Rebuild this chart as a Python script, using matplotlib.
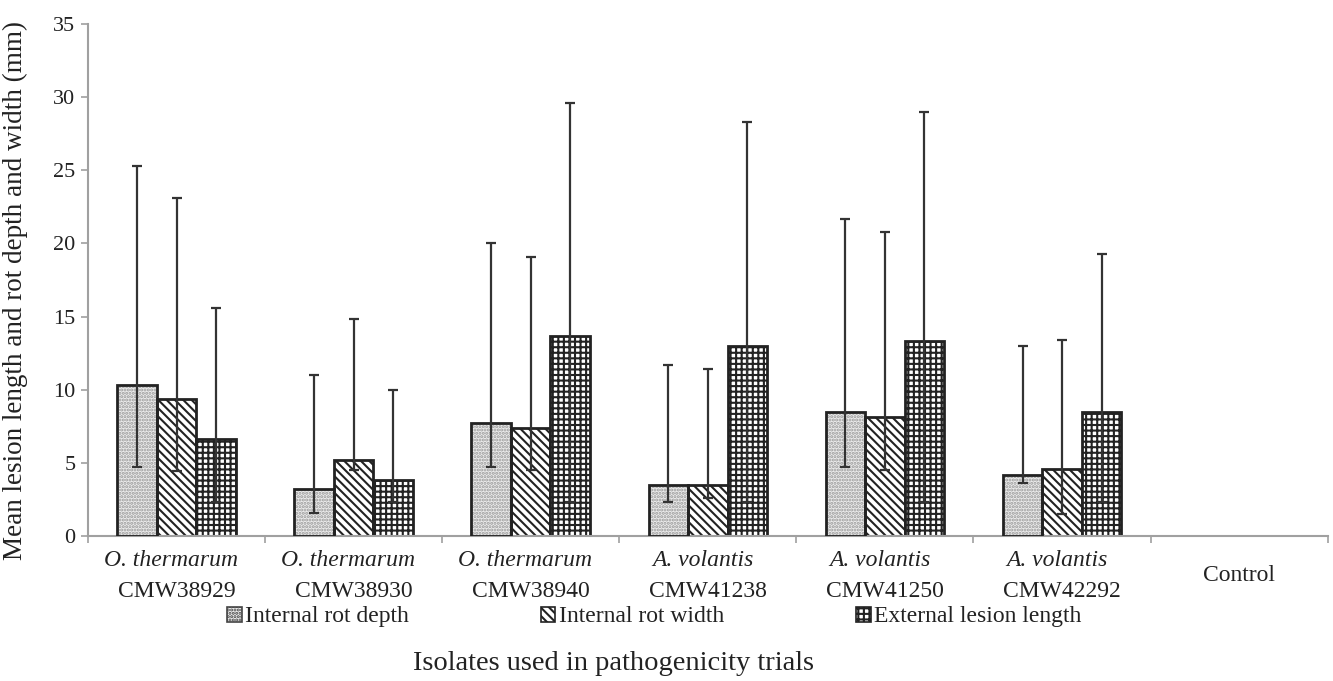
import numpy as np
import matplotlib
matplotlib.use('Agg')
import matplotlib.pyplot as plt
from matplotlib.patches import Patch

plt.rcParams['font.family'] = ['Liberation Serif', 'DejaVu Serif']
plt.rcParams['hatch.linewidth'] = 1.5

# 分类与数据
genus = ['O. thermarum', 'O. thermarum', 'O. thermarum',
         'A. volantis', 'A. volantis', 'A. volantis']
isolates = ['CMW38929', 'CMW38930', 'CMW38940',
            'CMW41238', 'CMW41250', 'CMW42292']
control_label = 'Control'

series_names = ['Internal rot depth', 'Internal rot width', 'External lesion length']

# 平均值
depth = [10.35, 3.2, 7.7, 3.5, 8.5, 4.15]
width = [9.35, 5.2, 7.35, 3.5, 8.15, 4.55]
lesion = [6.65, 3.85, 13.7, 13.0, 13.3, 8.5]

# 误差线上端和下端
depth_hi = [25.3, 11.0, 20.0, 11.7, 21.7, 13.0]
depth_lo = [4.7, 1.6, 4.7, 2.3, 4.7, 3.6]
width_hi = [23.1, 14.8, 19.1, 11.4, 20.8, 13.4]
width_lo = [4.45, 4.5, 4.5, 2.6, 4.5, 1.5]
lesion_hi = [15.6, 10.0, 29.6, 28.3, 29.0, 19.3]
lesion_lo = [2.3, 2.3, 2.3, 2.3, 2.3, 2.3]

means = [depth, width, lesion]
highs = [depth_hi, width_hi, lesion_hi]
lows = [depth_lo, width_lo, lesion_lo]

fig = plt.figure(figsize=(13.33, 6.81), dpi=100)
ax = fig.add_axes([0.066, 0.2129, 0.93, 0.752])

n_cat = len(isolates) + 1
x = np.arange(len(isolates))
bw = 0.223
spine_col = '#a0a0a0'
dot_hatch = '.....'
line_hatch = '\\\\\\\\'
grid_hatch = '+++'

for k in range(3):
    pos = x + (k - 1) * bw
    m = np.array(means[k])
    err = [m - np.array(lows[k]), np.array(highs[k]) - m]
    if k == 0:
        # 灰色点状填充，黑色边框
        ax.bar(pos, m, bw, color='#ececec', edgecolor='#9a9a9a', hatch=dot_hatch, linewidth=0, zorder=2)
        ax.bar(pos, m, bw, fill=False, edgecolor='#222222', linewidth=2, zorder=3)
    elif k == 1:
        ax.bar(pos, m, bw, color='white', edgecolor='#222222', hatch=line_hatch, linewidth=2, zorder=2)
    else:
        ax.bar(pos, m, bw, color='white', edgecolor='#222222', hatch=grid_hatch, linewidth=2, zorder=2)
    ax.errorbar(pos, m, yerr=err, fmt='none', ecolor='#333333', elinewidth=1.6,
                capsize=3.5, capthick=1.6, zorder=4)

ax.set_xlim(-0.5, n_cat - 0.5)
ax.set_ylim(0, 35)
ax.set_yticks(np.arange(0, 36, 5))
ax.set_xticks(np.arange(-0.5, n_cat, 1))
ax.set_xticklabels([])

for s in ['top', 'right']:
    ax.spines[s].set_visible(False)
for s in ['left', 'bottom']:
    ax.spines[s].set_color(spine_col)
    ax.spines[s].set_linewidth(1.5)
ax.tick_params(axis='both', colors=spine_col, width=1.2, length=5)
ax.tick_params(axis='y', labelcolor='#222222', labelsize=16, pad=4)

# x轴类别标签（两行）
tr = ax.get_xaxis_transform()
for i in range(len(isolates)):
    ax.text(i - 0.03, -0.047, genus[i], transform=tr, ha='center', va='center',
            fontsize=17, style='italic', color='#222222')
    ax.text(i, -0.109, isolates[i], transform=tr, ha='center', va='center',
            fontsize=17, color='#222222')
ax.text(len(isolates), -0.078, control_label, transform=tr, ha='center', va='center',
        fontsize=17, color='#222222')

handles = [
    Patch(facecolor='#ececec', edgecolor='#444444', hatch=dot_hatch, linewidth=1.2),
    Patch(facecolor='white', edgecolor='#222222', hatch=line_hatch, linewidth=1.2),
    Patch(facecolor='white', edgecolor='#222222', hatch=grid_hatch, linewidth=1.2),
]
leg = fig.legend(handles, series_names, loc='center', bbox_to_anchor=(0.491, 0.094), ncol=3,
                 frameon=False, fontsize=17, handlelength=0.6, handleheight=0.6,
                 handletextpad=0.15, columnspacing=5.6)
for t in leg.get_texts():
    t.set_color('#222222')

fig.text(0.46, 0.026, 'Isolates used in pathogenicity trials', ha='center', va='center',
         fontsize=20.5, color='#222222')
fig.text(0.0113, 0.574, 'Mean lesion length and rot depth and width (mm)', ha='center', va='center',
         rotation=90, fontsize=19.5, color='#222222')

fig.savefig('out.png', dpi=100)
